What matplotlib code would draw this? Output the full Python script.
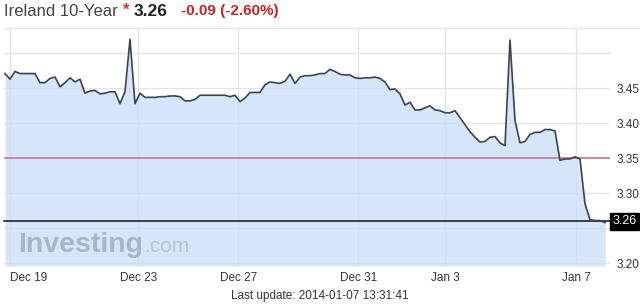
import numpy as np
import matplotlib.pyplot as plt

# yield readings, one per sampling step
yields = [
    3.471, 3.463, 3.474, 3.471, 3.471, 3.471, 3.471, 3.458, 3.458, 3.464,
    3.466, 3.452, 3.458, 3.465, 3.459, 3.463, 3.443, 3.446, 3.447, 3.442,
    3.443, 3.445, 3.445, 3.428, 3.445, 3.520, 3.428, 3.443, 3.437, 3.437,
    3.437, 3.438, 3.438, 3.439, 3.439, 3.438, 3.432, 3.432, 3.434, 3.440,
    3.440, 3.440, 3.440, 3.440, 3.440, 3.438, 3.440, 3.431, 3.436, 3.444,
    3.444, 3.444, 3.455, 3.459, 3.458, 3.457, 3.460, 3.470, 3.457, 3.466,
    3.468, 3.468, 3.469, 3.471, 3.471, 3.477, 3.474, 3.470, 3.469, 3.469,
    3.465, 3.464, 3.465, 3.465, 3.466, 3.464, 3.459, 3.448, 3.449, 3.442,
    3.426, 3.430, 3.419, 3.419, 3.422, 3.425, 3.419, 3.418, 3.415, 3.415,
    3.418, 3.408, 3.398, 3.388, 3.380, 3.373, 3.374, 3.380, 3.381, 3.372,
    3.368, 3.519, 3.404, 3.372, 3.374, 3.384, 3.387, 3.387, 3.391, 3.391,
    3.389, 3.347, 3.349, 3.349, 3.352, 3.349, 3.285, 3.262, 3.261, 3.261,
    3.258,
]
prev_close = 3.35
last = 3.26
change = "-0.09 (-2.60%)"

date_labels = ["Dec 19", "Dec 23", "Dec 27", "Dec 31", "Jan 3", "Jan 7"]
date_pos = [1.0, 26.67, 46.67, 70.67, 88.0, 114.2]
yticks = [3.20, 3.25, 3.30, 3.35, 3.40, 3.45, 3.50]
ytick_labels = ["3.20", "", "3.30", "3.35", "3.40", "3.45", ""]

W, H = 640, 306
fig = plt.figure(figsize=(W / 100, H / 100), dpi=100)
plt.rcParams['font.family'] = ['Liberation Sans', 'DejaVu Sans']
ax = fig.add_axes([4 / W, 1 - 266 / H, 606 / W, 237 / H])

x = np.arange(len(yields))
ymin, ymax = 3.196, 3.5347
ax.set_xlim(-0.2, 121)
ax.set_ylim(ymin, ymax)

ax.fill_between(x, yields, ymin, color="#c9ddf8", alpha=0.75, lw=0, zorder=2)
ax.plot(x, yields, color="#3a4350", lw=1.2, zorder=4)
ax.axhline(prev_close, color="#c9708a", lw=1.1, zorder=3)
ax.axhline(last, color="#111111", lw=1.1, zorder=3, clip_on=False)

ax.set_yticks(yticks)
ax.set_yticklabels(ytick_labels)
ax.yaxis.tick_right()
ax.set_xticks(date_pos)
ax.set_xticklabels(date_labels)
ax.xaxis.get_ticklabels()[0].set_horizontalalignment("left")
ax.tick_params(axis="both", length=0, labelsize=8.5, colors="#333333")
ax.tick_params(axis="y", pad=5)
ax.tick_params(axis="x", pad=4)
ax.grid(True, color="#e4e4e4", lw=1, zorder=1)
ax.set_axisbelow(True)
for s in ax.spines.values():
    s.set_visible(False)

# last value box on the right
ax.text(1.004, last, "%.2f" % last, transform=ax.get_yaxis_transform(),
        ha="left", va="center", color="white", fontsize=9, zorder=6,
        bbox=dict(boxstyle="square,pad=0.2", fc="black", ec="black"))

# watermark
ax.text(0.023, 0.06, "Investing", transform=ax.transAxes, fontsize=20.5,
        fontweight="bold", color="#a9b6c8", zorder=3, ha="left", va="baseline")
ax.text(0.232, 0.06, ".com", transform=ax.transAxes, fontsize=15,
        color="#b7c4d6", zorder=3, ha="left", va="baseline")

# header
ty = 1 - 11 / H
fig.text(4 / W, ty, "Ireland 10-Year", fontsize=12, color="#444444", va="center")
fig.text(123 / W, ty + 0.004, "*", fontsize=12, color="#e03030", va="center",
         fontweight="bold")
fig.text(134 / W, ty, "%.2f" % last, fontsize=12.5, fontweight="bold",
         color="#222222", va="center")
fig.text(181 / W, ty, change, fontsize=11, fontweight="bold",
         color="#cc2222", va="center")
fig.add_artist(plt.Line2D([4 / W, 1], [1 - 28 / H] * 2, color="#e8e8e8", lw=1))

fig.text(0.5, 1 - 296 / H, "Last update: 2014-01-07 13:31:41", fontsize=8.5,
         color="#333333", ha="center", va="center")

fig.savefig("out.png", dpi=100)
